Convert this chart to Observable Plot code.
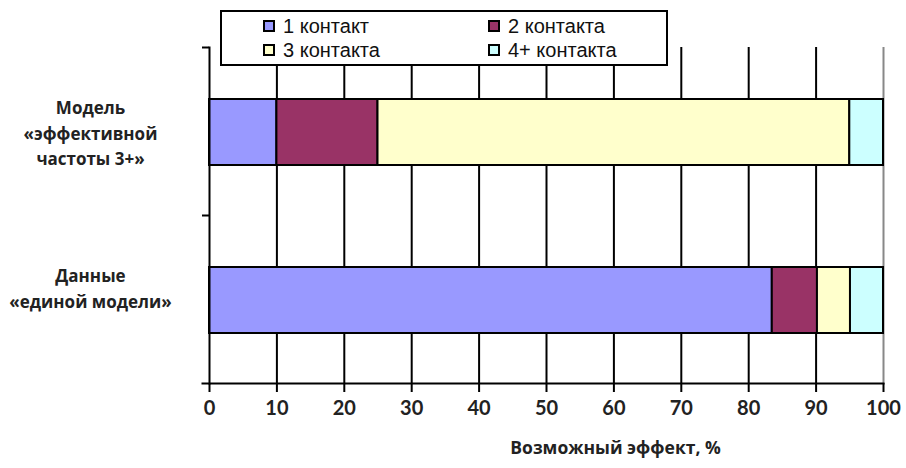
<!DOCTYPE html>
<html>
<head>
<meta charset="utf-8">
<script src="https://cdn.jsdelivr.net/npm/d3@7"></script>
<script src="https://cdn.jsdelivr.net/npm/@observablehq/plot@0.6"></script>
<style>
  html, body { margin: 0; padding: 0; background: #fff; }
  #wrap { position: relative; width: 906px; height: 468px; }
  #legend {
    position: absolute; left: 220px; top: 10px; width: 444px; height: 52px;
    border: 2px solid #000; background: #fff;
    font-family: "Liberation Sans", Arial, sans-serif; font-size: 20px; color: #111;
  }
  .item { position: absolute; display: flex; align-items: center; white-space: nowrap; line-height: 22px; }
  .sw { width: 8px; height: 8px; border: 2px solid #000; margin-right: 8px; }
</style>
</head>
<body>
<div id="wrap">
  <div id="chart"></div>
  <div id="legend"></div>
</div>
<script>
const categories = ["Модель\n«эффективной\nчастоты 3+»", "Данные\n«единой модели»\n"];
const seriesNames = ["1 контакт", "2 контакта", "3 контакта", "4+ контакта"];
const seriesColors = ["#9999FF", "#993366", "#FFFFCC", "#CCFFFF"];
const valuesModel = [10, 15, 70, 5];
const valuesData = [83.5, 6.7, 4.9, 4.9];
const xTicks = [0, 10, 20, 30, 40, 50, 60, 70, 80, 90, 100];
const xTitle = "Возможный эффект, %";

const seriesByCat = [valuesModel, valuesData];
const rows = [];
categories.forEach((c, i) => seriesNames.forEach((s, j) => rows.push({cat: c, series: s, value: seriesByCat[i][j]})));

const font = "Lato, 'Noto Sans', sans-serif";
const labelFont = "'Open Sans', Lato, sans-serif";

const plot = Plot.plot({
  width: 906,
  height: 468,
  marginTop: 47,
  marginBottom: 85,
  marginLeft: 209,
  marginRight: 23,
  style: {fontFamily: font, color: "#222", background: "#fff"},
  x: {domain: [0, 100]},
  y: {domain: categories, padding: 0},
  color: {domain: seriesNames, range: seriesColors},
  marks: [
    Plot.ruleX(xTicks.filter(t => t > 0 && t < 100), {stroke: "#000", strokeWidth: 2}),
    Plot.ruleX([100], {stroke: "#888", strokeWidth: 2}),
    Plot.barX(rows, Plot.stackX({x: "value", y: "cat", fill: "series", stroke: "#000", strokeWidth: 2, insetTop: 52, insetBottom: 50})),
    Plot.frame({anchor: "left", stroke: "#000", strokeWidth: 2}),
    Plot.frame({anchor: "bottom", stroke: "#000", strokeWidth: 2, insetLeft: -7}),
    Plot.ruleY(categories, {y: d => d, x1: 0, x2: 0, dy: -84, insetLeft: -7, stroke: "#000", strokeWidth: 2}),
    Plot.axisX({ticks: xTicks, tickFormat: d => d, tickSize: 9, tickPadding: 8, label: null, fontSize: 20, fontWeight: "bold", stroke: "#000", strokeWidth: 2}),
    Plot.axisY({ticks: [], label: null}),
    Plot.text(categories, {y: d => d, text: d => d, frameAnchor: "left", dx: -119, textAnchor: "middle", lineHeight: 1.5, fontSize: 17, fontWeight: "bold", fill: "#222", fontFamily: labelFont, letterSpacing: 1}),
    Plot.text([xTitle], {text: d => d, frameAnchor: "bottom", dx: 69, dy: 70, fontSize: 17.5, fontWeight: "bold", fill: "#222", fontFamily: labelFont, letterSpacing: 1.2})
  ]
});
document.getElementById("chart").appendChild(plot);

const legend = document.getElementById("legend");
const pos = [[41, 3], [266, 3], [41, 27], [266, 27]];
seriesNames.forEach((s, i) => {
  const it = document.createElement("div");
  it.className = "item";
  it.style.left = pos[i][0] + "px";
  it.style.top = pos[i][1] + "px";
  const sw = document.createElement("span");
  sw.className = "sw";
  sw.style.background = seriesColors[i];
  const t = document.createElement("span");
  t.textContent = s;
  it.appendChild(sw); it.appendChild(t);
  legend.appendChild(it);
});
</script>
</body>
</html>
